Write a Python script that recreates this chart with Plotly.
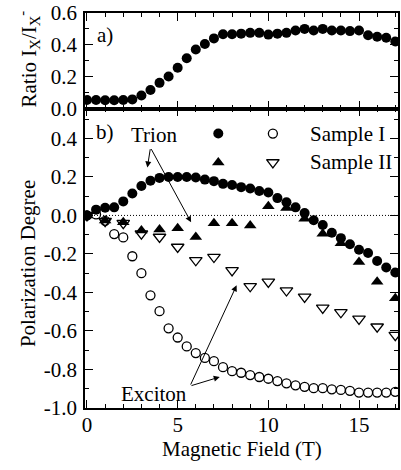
import plotly.graph_objects as go

# ---------------- data ----------------
B_half = [i * 0.5 for i in range(35)]          # 0 .. 17 T in 0.5 T steps
B_int = list(range(18))                        # 0 .. 17 T in 1 T steps

ratio_a = [0.052, 0.052, 0.050, 0.050, 0.052, 0.056, 0.080, 0.115, 0.160, 0.200,
           0.255, 0.315, 0.370, 0.405, 0.440, 0.466, 0.466, 0.470, 0.475, 0.475,
           0.464, 0.470, 0.475, 0.490, 0.500, 0.490, 0.500, 0.490, 0.490, 0.486,
           0.490, 0.460, 0.450, 0.444, 0.420]

trion_I = [0.000, 0.030, 0.040, 0.042, 0.073, 0.114, 0.153, 0.180, 0.195, 0.200,
           0.200, 0.200, 0.197, 0.186, 0.178, 0.164, 0.158, 0.147, 0.140, 0.127,
           0.119, 0.090, 0.068, 0.042, 0.012, -0.025, -0.050, -0.090, -0.118, -0.150,
           -0.178, -0.195, -0.237, -0.270, -0.296]

exciton_I = [0.000, 0.005, -0.028, -0.097, -0.114, -0.212, -0.300, -0.415, -0.497, -0.586,
             -0.634, -0.680, -0.715, -0.740, -0.757, -0.788, -0.809, -0.817, -0.829, -0.839,
             -0.848, -0.860, -0.872, -0.882, -0.890, -0.897, -0.897, -0.903, -0.906, -0.911,
             -0.920, -0.920, -0.920, -0.920, -0.916]

trion_II = [0.000, -0.026, -0.035, -0.078, -0.073, -0.067, -0.112, -0.040, -0.040, -0.052,
            0.048, 0.038, -0.017, -0.095, -0.145, -0.242, -0.345, -0.430]

exciton_II = [0.000, -0.030, -0.040, -0.095, -0.112, -0.164, -0.233, -0.216, -0.285, -0.368,
              -0.345, -0.390, -0.423, -0.480, -0.503, -0.537, -0.578, -0.622]

x_ticks = [0, 5, 10, 15]
x_ticktext = ["0", "5", "10", "15"]
ya_ticks = [0.0, 0.2, 0.4, 0.6]
ya_ticktext = ["0.0", "0.2", "0.4", "0.6"]
yb_ticks = [-1.0, -0.8, -0.6, -0.4, -0.2, 0.0, 0.2, 0.4]
yb_ticktext = ["-1.0", "-0.8", "-0.6", "-0.4", "-0.2", "0.0", "0.2", "0.4"]

legend_labels = ["Sample I", "Sample II"]

# ---------------- figure ----------------
FONT = "Liberation Serif"
XR = [-0.11, 17.15]
split = 0.7576
TRI = 11

fig = go.Figure()

# panel a
fig.add_trace(go.Scatter(x=B_half, y=ratio_a, mode="markers", xaxis="x", yaxis="y",
                         marker=dict(symbol="circle", size=10, color="black")))

# panel b
fig.add_trace(go.Scatter(x=B_half, y=exciton_I, mode="markers", xaxis="x2", yaxis="y2",
                         marker=dict(symbol="circle-open", size=9, color="black",
                                     line=dict(width=1.3, color="black"))))
fig.add_trace(go.Scatter(x=B_int, y=exciton_II, mode="markers", xaxis="x2", yaxis="y2",
                         marker=dict(symbol="triangle-down-open", size=TRI, color="black",
                                     line=dict(width=1.3, color="black"))))
fig.add_trace(go.Scatter(x=B_int, y=trion_II, mode="markers", xaxis="x2", yaxis="y2",
                         marker=dict(symbol="triangle-up", size=TRI, color="black")))
fig.add_trace(go.Scatter(x=B_half, y=trion_I, mode="markers", xaxis="x2", yaxis="y2",
                         marker=dict(symbol="circle", size=10, color="black")))

# manual legend markers (2x2 grid)
leg_x_filled, leg_x_open = 7.24, 10.25
leg_y1, leg_y2 = 0.425, 0.275
fig.add_trace(go.Scatter(x=[leg_x_filled], y=[leg_y1], mode="markers", xaxis="x2", yaxis="y2",
                         marker=dict(symbol="circle", size=10, color="black")))
fig.add_trace(go.Scatter(x=[leg_x_open], y=[leg_y1], mode="markers", xaxis="x2", yaxis="y2",
                         marker=dict(symbol="circle-open", size=9, color="black",
                                     line=dict(width=1.3, color="black"))))
fig.add_trace(go.Scatter(x=[leg_x_filled], y=[leg_y2], mode="markers", xaxis="x2", yaxis="y2",
                         marker=dict(symbol="triangle-up", size=TRI, color="black")))
fig.add_trace(go.Scatter(x=[leg_x_open], y=[leg_y2], mode="markers", xaxis="x2", yaxis="y2",
                         marker=dict(symbol="triangle-down-open", size=TRI, color="black",
                                     line=dict(width=1.3, color="black"))))

axis_common = dict(showline=True, linecolor="black", linewidth=1.5, mirror="ticks",
                   ticks="inside", ticklen=8, tickwidth=1.3, tickcolor="black",
                   showgrid=False, zeroline=False)

fig.update_layout(
    width=401, height=470,
    margin=dict(l=85, r=1, t=12, b=62),
    plot_bgcolor="white", paper_bgcolor="white",
    showlegend=False,
    font=dict(family=FONT, size=21, color="black"),
    xaxis=dict(domain=[0, 1], anchor="y", range=XR, tickvals=x_ticks, showticklabels=False,
               minor=dict(dtick=1, tick0=0, ticks="inside", ticklen=4, tickwidth=1, tickcolor="black"),
               **axis_common),
    yaxis=dict(domain=[split, 1], anchor="x", range=[-0.003, 0.6], tickvals=ya_ticks,
               ticktext=ya_ticktext, ticklabelstandoff=2,
               minor=dict(dtick=0.1, tick0=0, ticks="inside", ticklen=4, tickwidth=1, tickcolor="black"),
               **axis_common),
    xaxis2=dict(domain=[0, 1], anchor="y2", range=XR, tickvals=x_ticks, ticktext=x_ticktext,
                ticklabelstandoff=-3,
                minor=dict(dtick=1, tick0=0, ticks="inside", ticklen=4, tickwidth=1, tickcolor="black"),
                **axis_common),
    yaxis2=dict(domain=[0, split], anchor="x2", range=[-1.0, 0.554], tickvals=yb_ticks,
                ticktext=yb_ticktext, ticklabelstandoff=2,
                minor=dict(dtick=0.1, tick0=0, ticks="inside", ticklen=4, tickwidth=1, tickcolor="black"),
                **axis_common),
)

# dotted zero line in panel b
fig.add_shape(type="line", xref="x2", yref="y2", x0=XR[0], x1=XR[1], y0=0, y1=0,
              line=dict(color="black", width=1, dash="1px,2px"), layer="below")

ann = []
# axis titles
ann.append(dict(text="Ratio I<sub>X</sub>/I<sub>X</sub><sup>-</sup>", xref="paper", yref="paper",
                x=-0.18, y=0.884, textangle=-90, showarrow=False, xanchor="center", yanchor="middle"))
ann.append(dict(text="Polarization Degree", xref="paper", yref="paper",
                x=-0.18, y=0.366, textangle=-90, showarrow=False, xanchor="center", yanchor="middle"))
ann.append(dict(text="Magnetic Field (T)", xref="paper", yref="paper",
                x=0.5, y=-0.1035, showarrow=False, xanchor="center", yanchor="middle"))
# panel labels
ann.append(dict(text="a)", xref="x", yref="y", x=0.99, y=0.4625, showarrow=False))
ann.append(dict(text="b)", xref="x2", yref="y2", x=0.99, y=0.435, showarrow=False))
ann.append(dict(text="Trion", xref="x2", yref="y2", x=3.7, y=0.42, showarrow=False))
ann.append(dict(text="Exciton", xref="x2", yref="y2", x=3.67, y=-0.927, showarrow=False))
# legend texts
ann.append(dict(text=legend_labels[0], xref="x2", yref="y2", x=12.2, y=leg_y1,
                showarrow=False, xanchor="left"))
ann.append(dict(text=legend_labels[1], xref="x2", yref="y2", x=12.2, y=leg_y2,
                showarrow=False, xanchor="left"))
# arrows
arrow_style = dict(xref="x2", yref="y2", axref="x2", ayref="y2", text="", showarrow=True,
                   arrowhead=2, arrowsize=1.2, arrowwidth=1, arrowcolor="black", standoff=0)
ann.append(dict(x=3.33, y=0.249, ax=3.5, ay=0.352, **arrow_style))
ann.append(dict(x=5.74, y=-0.036, ax=3.5, ay=0.352, **arrow_style))
ann.append(dict(x=8.25, y=-0.363, ax=5.68, ay=-0.886, **arrow_style))
ann.append(dict(x=7.32, y=-0.839, ax=5.68, ay=-0.886, **arrow_style))

fig.update_layout(annotations=ann)

fig.write_html("out.html")
